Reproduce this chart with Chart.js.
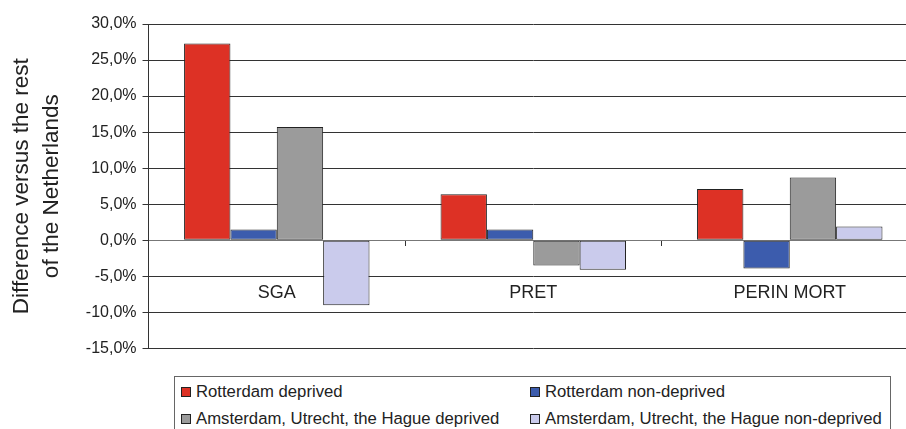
<!DOCTYPE html>
<html>
<head>
<meta charset="utf-8">
<script src="https://cdn.jsdelivr.net/npm/chart.js@4"></script>
<style>
    html, body { margin: 0; padding: 0; overflow: hidden; background: #fff; width: 906px; height: 429px; }
    #wrap { position: absolute; left: 0; top: 0; width: 918px; height: 364px; }
    #legend {
        position: absolute; left: 174px; top: 376px; width: 717px; height: 70px;
        border: 1px solid #666; box-sizing: border-box;
        font-family: "Liberation Sans", Arial, sans-serif; font-size: 16.7px; color: #222;
    }
    .item { position: absolute; white-space: nowrap; line-height: 18px; }
    .item i { display: inline-block; width: 8px; height: 8px; border: 1px solid #222; margin-right: 5px; }
</style>
</head>
<body>
<div id="wrap"><canvas id="grafico"></canvas></div>
<div id="legend"></div>
<script>
const categorias = ['SGA', 'PRET', 'PERIN MORT'];
const rotterdamDeprived = [27.3, 6.4, 7.1];
const rotterdamNonDeprived = [1.5, 1.5, -3.9];
const outrasDeprived = [15.7, -3.5, 8.7];
const outrasNonDeprived = [-9.0, -4.1, 1.9];
const yMin = -15, yMax = 30, yStep = 5;

const fonte = '"Liberation Sans", Arial, sans-serif';

const grafico = new Chart(document.getElementById('grafico'), {
    type: 'bar',
    data: {
        labels: categorias,
        datasets: [
            { label: 'Rotterdam deprived', data: rotterdamDeprived, backgroundColor: '#dd3125' },
            { label: 'Rotterdam non-deprived', data: rotterdamNonDeprived, backgroundColor: '#3c5cad' },
            { label: 'Amsterdam, Utrecht, the Hague deprived', data: outrasDeprived, backgroundColor: '#9b9b9b' },
            { label: 'Amsterdam, Utrecht, the Hague non-deprived', data: outrasNonDeprived, backgroundColor: '#cacbec' },
        ].map(d => Object.assign(d, {
            borderColor: '#222', borderWidth: 1, borderSkipped: false,
            categoryPercentage: 0.723, barPercentage: 1
        }))
    },
    options: {
        responsive: true,
        maintainAspectRatio: false,
        animation: false,
        layout: { padding: { left: 3, top: 24, right: 0, bottom: 7 } },
        plugins: {
            legend: { display: false },
            tooltip: { enabled: false },
        },
        scales: {
            x: {
                position: { y: 0 },
                grid: { drawOnChartArea: false, tickLength: 5, color: '#333', offset: true },
                border: { color: '#777' },
                ticks: { color: '#222', padding: 37, font: { family: fonte, size: 18 } },
            },
            y: {
                min: yMin,
                max: yMax,
                grid: { color: '#333', lineWidth: 1, tickLength: 6 },
                border: { color: '#333' },
                ticks: {
                    stepSize: yStep,
                    padding: 6,
                    color: '#222',
                    font: { family: fonte, size: 16 },
                    callback: v => v.toFixed(1).replace('.', ',') + '%'
                },
                title: {
                    display: true,
                    text: ['Difference versus the rest', 'of the Netherlands'],
                    color: '#222',
                    font: { family: fonte, size: 22.5, lineHeight: 1.33 },
                    padding: { top: 4, bottom: 13 }
                }
            }
        }
    }
});

const legenda = document.getElementById('legend');
grafico.data.datasets.forEach((ds, i) => {
    const col = i % 2, row = Math.floor(i / 2);
    legenda.innerHTML += `
        <div class="item" style="left:${col ? 355 : 6}px; top:${row ? 33 : 6}px">
            <i style="background:${ds.backgroundColor}"></i>${ds.label}
        </div>`;
});
</script>
</body>
</html>
